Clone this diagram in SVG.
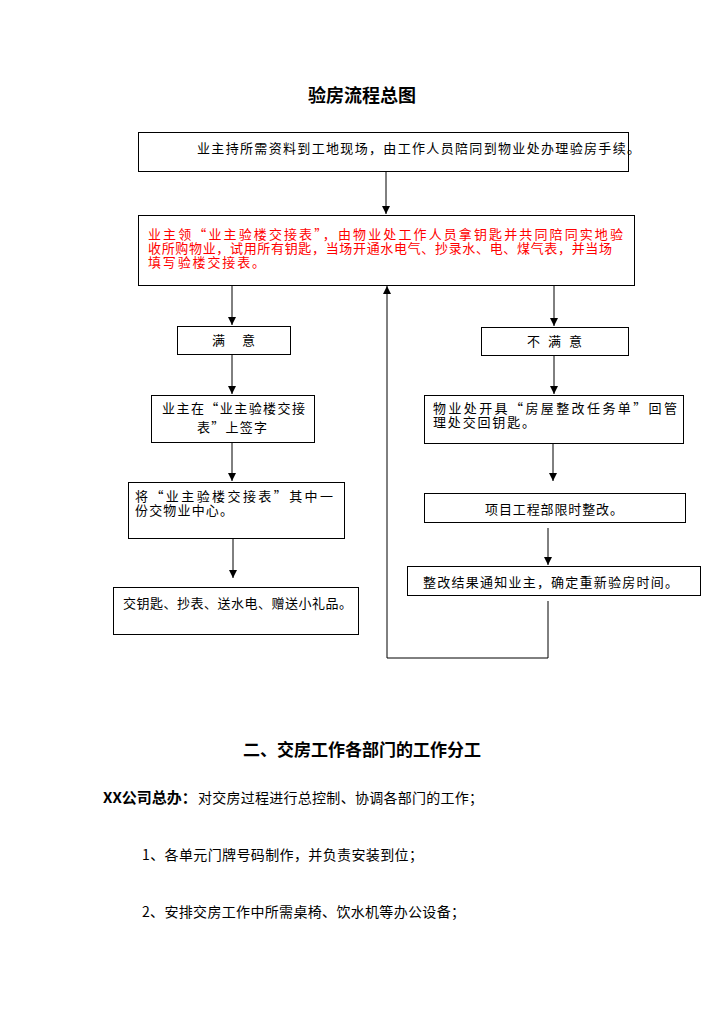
<svg xmlns="http://www.w3.org/2000/svg" width="724" height="1024" viewBox="0 0 724 1024">
<style>
.box{fill:#fff;stroke:#000;stroke-width:1}
.t{font-family:"Noto Sans CJK SC","Liberation Sans",sans-serif;font-size:13px;fill:#000}
.r{fill:#ff0000}
.ln{stroke:#000;stroke-width:1;fill:none}
.h{font-family:"Noto Sans CJK SC","Liberation Sans",sans-serif;font-weight:bold;fill:#000}
.p{font-family:"Noto Sans CJK SC","Liberation Sans",sans-serif;font-size:14px;fill:#000}
</style>
<defs>
<marker id="ah" viewBox="0 0 8 8" refX="8" refY="4" markerWidth="8" markerHeight="8" markerUnits="userSpaceOnUse" orient="auto">
<path d="M0,0 L8,4 L0,8 Z" fill="#000"/>
</marker>
</defs>
<rect width="724" height="1024" fill="#fff"/>
<text class="h" x="362" y="102" font-size="18" text-anchor="middle">验房流程总图</text>

<g id="connectors">
<line class="ln" x1="386" y1="171" x2="386" y2="214" marker-end="url(#ah)"/>
<line class="ln" x1="232" y1="285" x2="232" y2="325" marker-end="url(#ah)"/>
<line class="ln" x1="554" y1="285" x2="554" y2="326" marker-end="url(#ah)"/>
<line class="ln" x1="232" y1="354" x2="232" y2="394" marker-end="url(#ah)"/>
<line class="ln" x1="232" y1="442" x2="232" y2="481" marker-end="url(#ah)"/>
<line class="ln" x1="233" y1="538" x2="233" y2="578" marker-end="url(#ah)"/>
<line class="ln" x1="554" y1="355" x2="554" y2="394" marker-end="url(#ah)"/>
<line class="ln" x1="553" y1="443" x2="553" y2="481" marker-end="url(#ah)"/>
<line class="ln" x1="548" y1="528" x2="548" y2="565" marker-end="url(#ah)"/>
<polyline class="ln" points="548,601 548,658 387,658 387,286" marker-end="url(#ah)"/>
</g>

<g id="n1">
<rect class="box" x="138.5" y="132.5" width="490" height="39"/>
<text class="t" x="197" y="153" textLength="443" lengthAdjust="spacing">业主持所需资料到工地现场，由工作人员陪同到物业处办理验房手续。</text>
</g>
<g id="n2">
<rect class="box" x="138.5" y="215.5" width="496" height="70"/>
<text class="t r"><tspan x="148" y="239" textLength="475" lengthAdjust="spacing">业主领“业主验楼交接表”，由物业处工作人员拿钥匙并共同陪同实地验</tspan><tspan x="148" y="253" textLength="464" lengthAdjust="spacing">收所购物业，试用所有钥匙，当场开通水电气、抄录水、电、煤气表，并当场</tspan><tspan x="148" y="267" textLength="117" lengthAdjust="spacing">填写验楼交接表。</tspan></text>
</g>
<g id="n3">
<rect class="box" x="177.5" y="326.5" width="113" height="28"/>
<text class="t" y="345"><tspan x="212">满</tspan><tspan x="242">意</tspan></text>
</g>
<g id="n4">
<rect class="box" x="151.5" y="395.5" width="163" height="47"/>
<text class="t"><tspan x="162" y="413" textLength="143" lengthAdjust="spacing">业主在“业主验楼交接</tspan><tspan x="197" y="432" textLength="70" lengthAdjust="spacing">表”上签字</tspan></text>
</g>
<g id="n5">
<rect class="box" x="128.5" y="482.5" width="216" height="56"/>
<text class="t"><tspan x="135" y="501" textLength="198" lengthAdjust="spacing">将“业主验楼交接表”其中一</tspan><tspan x="135" y="515" textLength="98" lengthAdjust="spacing">份交物业中心。</tspan></text>
</g>
<g id="n6">
<rect class="box" x="113.5" y="587.5" width="245" height="47"/>
<text class="t" x="123" y="608" textLength="229" lengthAdjust="spacing">交钥匙、抄表、送水电、赠送小礼品。</text>
</g>
<g id="n7">
<rect class="box" x="481.5" y="327.5" width="147" height="28"/>
<text class="t" y="346"><tspan x="527">不</tspan><tspan x="548">满</tspan><tspan x="569">意</tspan></text>
</g>
<g id="n8">
<rect class="box" x="424.5" y="395.5" width="259" height="48"/>
<text class="t"><tspan x="433" y="413" textLength="244" lengthAdjust="spacing">物业处开具“房屋整改任务单”回管</tspan><tspan x="433" y="427" textLength="102" lengthAdjust="spacing">理处交回钥匙。</tspan></text>
</g>
<g id="n9">
<rect class="box" x="424.5" y="493.5" width="261" height="29"/>
<text class="t" x="485" y="514" textLength="138" lengthAdjust="spacing">项目工程部限时整改。</text>
</g>
<g id="n10">
<rect class="box" x="407.5" y="566.5" width="293" height="29"/>
<text class="t" x="423" y="587" textLength="255" lengthAdjust="spacing">整改结果通知业主，确定重新验房时间。</text>
</g>

<text class="h" x="362" y="756" font-size="17" text-anchor="middle">二、交房工作各部门的工作分工</text>
<text class="p" x="103" y="803"><tspan font-weight="bold" font-size="15">XX公司总办：</tspan><tspan x="198" textLength="285" lengthAdjust="spacing">对交房过程进行总控制、协调各部门的工作；</tspan></text>
<text class="p" x="142" y="860" textLength="281" lengthAdjust="spacing">1、各单元门牌号码制作，并负责安装到位；</text>
<text class="p" x="142" y="917" textLength="323" lengthAdjust="spacing">2、安排交房工作中所需桌椅、饮水机等办公设备；</text>
</svg>
